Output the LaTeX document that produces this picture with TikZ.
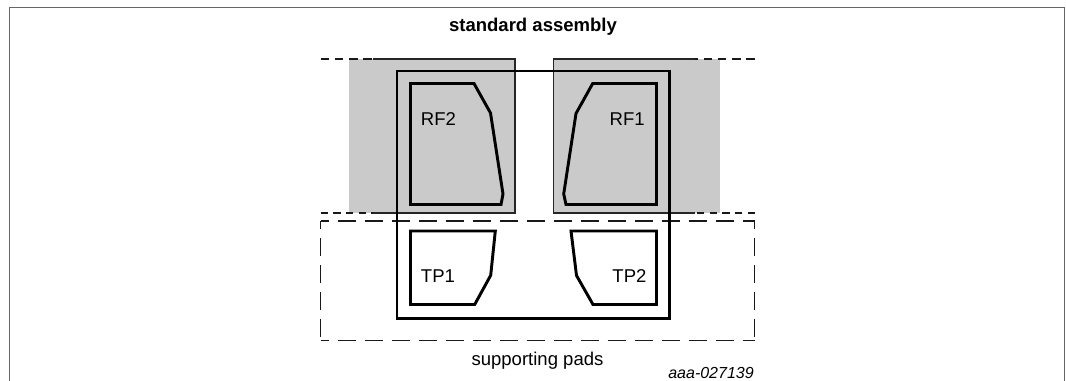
\documentclass[tikz,border=0pt]{standalone}
\usepackage{fontspec}
\setmainfont{Liberation Sans}
\definecolor{padgray}{RGB}{202,202,202}
\tikzset{
  thickline/.style={black,line width=2.2pt,line join=miter},
  padline/.style={black!85,line width=1.4pt},
  topdash/.style={black!90,line width=1.4pt,dash pattern=on 6.5pt off 4.2pt},
  botdash/.style={black!90,line width=1.4pt,dash pattern=on 5.6pt off 3.9pt},
  longdash/.style={black!90,line width=1.4pt,dash pattern=on 13.5pt off 6.75pt,dash phase=7.5pt},
  framecol/.style={black!60,line width=0.8pt},
  every node/.style={inner sep=0pt,font=\fontsize{13.9pt}{16pt}\selectfont}
}
\begin{document}
\begin{tikzpicture}[x=0.75pt,y=-0.75pt]
            \useasboundingbox (0,0) rectangle (1066,381);
            % frame, open at the bottom
            \draw [framecol] (9.5,381) -- (9.5,7.5) -- (1064.5,7.5) -- (1064.5,381);
            \draw (533,32) node [anchor=base] {\bfseries standard assembly};
            % shaded pads
            \fill [padgray] (349,59) rectangle (515,213);
            \fill [padgray] (553.5,59) rectangle (720,213);
            \draw [padline] (373,59) -- (515,59) -- (515,213) -- (373,213);
            \draw [padline] (695,59) -- (553.5,59) -- (553.5,213) -- (695,213);
            \draw [topdash] (320.5,59) -- (373,59);
            \draw [botdash] (320.5,213) -- (373,213);
            \draw [topdash] (755,59) -- (695,59);
            \draw [botdash] (755,213) -- (695,213);
            % supporting pads outline
            \draw [longdash] (320.5,221) -- (754.5,221);
            \draw [longdash] (320.5,340.5) -- (754.5,340.5);
            \draw [longdash] (320.5,221) -- (320.5,340.5);
            \draw [longdash] (754.5,221) -- (754.5,340.5);
            % package
            \draw [thickline] (397,71) rectangle (669.5,318.5);
            % inner contacts
            \draw [thickline] (410.5,83.5) -- (474,83.5) -- (490.5,113) -- (503,194) -- (501,204.5) -- (410.5,204.5) -- cycle;
            \draw [thickline] (656.5,83.5) -- (592.7,83.5) -- (576,113.5) -- (563.7,194) -- (566,204.5) -- (656.5,204.5) -- cycle;
            \draw [thickline] (410.5,231) -- (495.3,231) -- (490.7,275.3) -- (474.7,304.5) -- (410.5,304.5) -- cycle;
            \draw [thickline] (656.5,231) -- (571,231) -- (576.5,275.5) -- (593,304.5) -- (656.5,304.5) -- cycle;
            \draw (420.7,126) node [anchor=base west] {RF2};
            \draw (645,126) node [anchor=base east] {RF1};
            \draw (420.7,282) node [anchor=base west] {TP1};
            \draw (646.7,282) node [anchor=base east] {TP2};
            \draw (537.5,365) node [anchor=base] {supporting pads};
            \draw (754,378) node [anchor=base east,font=\fontsize{12pt}{14pt}\selectfont\itshape] {aaa-027139};
        \end{tikzpicture}
\end{document}
